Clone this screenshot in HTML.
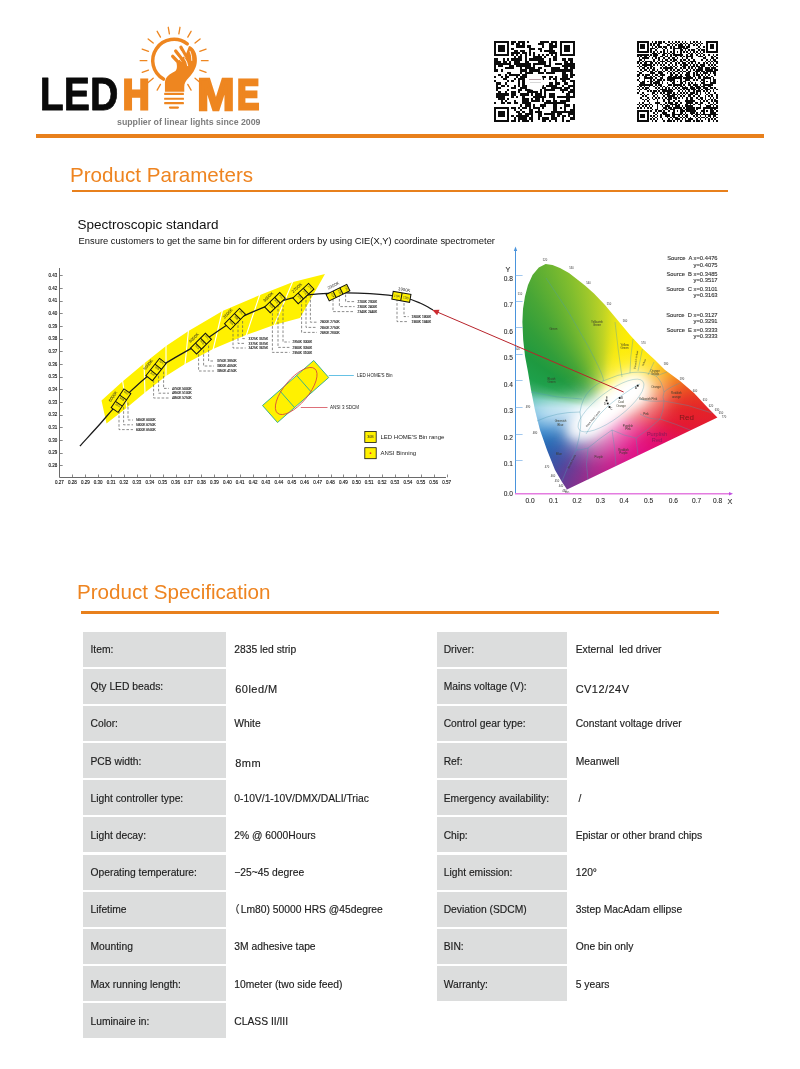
<!DOCTYPE html>
<html lang="en">
<head>
<meta charset="utf-8">
<title>LED HOME - Product Parameters</title>
<style>
html,body{margin:0;padding:0;background:#fff;}
body{width:800px;height:1069px;position:relative;overflow:hidden;font-family:"Liberation Sans","Noto Sans CJK SC",sans-serif;color:#222;}
.abs{position:absolute;}
.hline{position:absolute;background:#e8801c;}
.h1{position:absolute;color:#ee8420;font-size:20.6px;line-height:24px;white-space:nowrap;}
.cell{position:absolute;background:#dcdddd;height:35px;}
.lbl,.val{position:absolute;font-size:10.3px;line-height:12px;white-space:nowrap;color:#1c1c1c;-webkit-text-stroke:0.15px #1c1c1c;}
.val{color:#222;}
#spec1{position:absolute;left:77.5px;top:217px;font-size:13.5px;line-height:16px;color:#111;white-space:nowrap;}
#spec2{position:absolute;left:78.6px;top:235px;font-size:9.36px;line-height:12px;color:#111;white-space:nowrap;}
</style>
</head>
<body>
<!-- HEADER -->
<div id="logo" class="abs" style="left:0;top:0;width:300px;height:140px;"><svg width="300" height="140" viewBox="0 0 300 140" style="position:absolute;left:0;top:0;overflow:visible">
<text x="39.7" y="110" font-family="Liberation Sans, Arial, sans-serif" font-weight="700" font-size="45.6" fill="#0a0a0a" stroke="#0a0a0a" stroke-width="0.8" stroke-linejoin="round" textLength="78.6" lengthAdjust="spacingAndGlyphs">LED</text>
<text x="122.94" y="109.40" font-family="Liberation Sans, Arial, sans-serif" font-weight="700" font-size="43.30" fill="#ee8620" stroke="#ee8620" stroke-width="3.2" stroke-linejoin="miter" textLength="26.32" lengthAdjust="spacingAndGlyphs">H</text>
<text x="197.17" y="109.70" font-family="Liberation Sans, Arial, sans-serif" font-weight="700" font-size="44.13" fill="#ee8620" stroke="#ee8620" stroke-width="2.6" stroke-linejoin="miter" textLength="37.26" lengthAdjust="spacingAndGlyphs">M</text>
<text x="237.21" y="109.40" font-family="Liberation Sans, Arial, sans-serif" font-weight="700" font-size="43.30" fill="#ee8620" stroke="#ee8620" stroke-width="3.2" stroke-linejoin="miter" textLength="21.87" lengthAdjust="spacingAndGlyphs">E</text>
<text x="117" y="125.2" font-family="Liberation Sans, Arial, sans-serif" font-weight="700" font-size="9.1" fill="#7d7d7d" textLength="143.5" lengthAdjust="spacingAndGlyphs">supplier of linear lights since 2009</text>
<g transform="translate(140,25) scale(0.0875)" fill="#ee8620" stroke="none">
<line x1="234" y1="678" x2="196" y2="744" stroke="#ee8620" stroke-width="15" stroke-linecap="round"/>
<line x1="151" y1="609" x2="93" y2="657" stroke="#ee8620" stroke-width="15" stroke-linecap="round"/>
<line x1="97" y1="515" x2="25" y2="541" stroke="#ee8620" stroke-width="15" stroke-linecap="round"/>
<line x1="78" y1="408" x2="2" y2="408" stroke="#ee8620" stroke-width="15" stroke-linecap="round"/>
<line x1="97" y1="301" x2="25" y2="275" stroke="#ee8620" stroke-width="15" stroke-linecap="round"/>
<line x1="151" y1="207" x2="93" y2="159" stroke="#ee8620" stroke-width="15" stroke-linecap="round"/>
<line x1="234" y1="138" x2="196" y2="72" stroke="#ee8620" stroke-width="15" stroke-linecap="round"/>
<line x1="336" y1="101" x2="323" y2="26" stroke="#ee8620" stroke-width="15" stroke-linecap="round"/>
<line x1="444" y1="101" x2="457" y2="26" stroke="#ee8620" stroke-width="15" stroke-linecap="round"/>
<line x1="546" y1="138" x2="584" y2="72" stroke="#ee8620" stroke-width="15" stroke-linecap="round"/>
<line x1="629" y1="207" x2="687" y2="159" stroke="#ee8620" stroke-width="15" stroke-linecap="round"/>
<line x1="683" y1="301" x2="755" y2="275" stroke="#ee8620" stroke-width="15" stroke-linecap="round"/>
<line x1="702" y1="408" x2="778" y2="408" stroke="#ee8620" stroke-width="15" stroke-linecap="round"/>
<line x1="683" y1="515" x2="755" y2="541" stroke="#ee8620" stroke-width="15" stroke-linecap="round"/>
<line x1="629" y1="609" x2="687" y2="657" stroke="#ee8620" stroke-width="15" stroke-linecap="round"/>
<line x1="546" y1="678" x2="584" y2="744" stroke="#ee8620" stroke-width="15" stroke-linecap="round"/>
<path d="M268,618 A243,243 0 1 1 540,217" fill="none" stroke="#ee8620" stroke-width="40" stroke-linecap="round"/>
<path d="M285,762 L285,655 C292,590 340,562 395,532 C428,512 424,470 418,436 L452,398 L520,345 L560,240 C615,250 655,330 650,410 C648,480 612,540 562,598 C522,640 506,668 506,705 L506,762 Z"/>
<line x1="455" y1="445" x2="374" y2="358" stroke="#ee8620" stroke-width="38" stroke-linecap="round"/>
<line x1="492" y1="405" x2="408" y2="298" stroke="#ee8620" stroke-width="38" stroke-linecap="round"/>
<line x1="535" y1="375" x2="468" y2="255" stroke="#ee8620" stroke-width="38" stroke-linecap="round"/>
<path d="M512,385 Q540,420 545,465" fill="none" stroke="#fff" stroke-width="11" stroke-linecap="round"/>
<path d="M572,300 Q596,350 592,405" fill="none" stroke="#fff" stroke-width="10" stroke-linecap="round"/>
<path d="M470,300 L515,375" fill="none" stroke="#fff" stroke-width="7" stroke-linecap="round"/>
<path d="M415,345 L470,415" fill="none" stroke="#fff" stroke-width="7" stroke-linecap="round"/>
<rect x="276" y="775" width="226" height="25" rx="5"/>
<rect x="276" y="830" width="226" height="25" rx="5"/>
<rect x="276" y="880" width="226" height="25" rx="5"/>
<rect x="330" y="930" width="116" height="26" rx="13"/>
</g></svg></div>
<div id="qr1" class="abs" style="left:494.3px;top:41.4px;width:80.8px;height:80.8px;"><svg width="80.8" height="80.8" viewBox="0 0 37 37" preserveAspectRatio="none" shape-rendering="crispEdges" style="position:absolute;left:0;top:0"><path fill="#0c0c0c" d="M0 0h7v1h-7zM8 0h2v1h-2zM11 0h3v1h-3zM15 0h1v1h-1zM21 0h4v1h-4zM26 0h3v1h-3zM30 0h7v1h-7zM0 1h1v1h-1zM6 1h1v1h-1zM8 1h1v1h-1zM10 1h2v1h-2zM13 1h1v1h-1zM20 1h3v1h-3zM25 1h2v1h-2zM28 1h1v1h-1zM30 1h1v1h-1zM36 1h1v1h-1zM0 2h1v1h-1zM2 2h3v1h-3zM6 2h1v1h-1zM10 2h4v1h-4zM15 2h2v1h-2zM22 2h1v1h-1zM25 2h4v1h-4zM30 2h1v1h-1zM32 2h3v1h-3zM36 2h1v1h-1zM0 3h1v1h-1zM2 3h3v1h-3zM6 3h1v1h-1zM8 3h1v1h-1zM16 3h3v1h-3zM20 3h2v1h-2zM25 3h2v1h-2zM30 3h1v1h-1zM32 3h3v1h-3zM36 3h1v1h-1zM0 4h1v1h-1zM2 4h3v1h-3zM6 4h1v1h-1zM9 4h2v1h-2zM12 4h2v1h-2zM16 4h1v1h-1zM21 4h1v1h-1zM23 4h5v1h-5zM30 4h1v1h-1zM32 4h3v1h-3zM36 4h1v1h-1zM0 5h1v1h-1zM6 5h1v1h-1zM8 5h4v1h-4zM13 5h2v1h-2zM16 5h1v1h-1zM18 5h1v1h-1zM25 5h4v1h-4zM30 5h1v1h-1zM36 5h1v1h-1zM0 6h7v1h-7zM8 6h1v1h-1zM10 6h1v1h-1zM12 6h1v1h-1zM14 6h1v1h-1zM16 6h1v1h-1zM18 6h1v1h-1zM20 6h1v1h-1zM22 6h1v1h-1zM24 6h1v1h-1zM26 6h1v1h-1zM28 6h1v1h-1zM30 6h7v1h-7zM9 7h1v1h-1zM11 7h2v1h-2zM14 7h1v1h-1zM18 7h4v1h-4zM23 7h1v1h-1zM27 7h2v1h-2zM0 8h2v1h-2zM4 8h1v1h-1zM6 8h1v1h-1zM8 8h5v1h-5zM14 8h1v1h-1zM16 8h7v1h-7zM25 8h1v1h-1zM27 8h2v1h-2zM31 8h2v1h-2zM34 8h2v1h-2zM0 9h3v1h-3zM4 9h2v1h-2zM7 9h1v1h-1zM9 9h3v1h-3zM14 9h2v1h-2zM20 9h4v1h-4zM25 9h1v1h-1zM32 9h2v1h-2zM35 9h1v1h-1zM0 10h8v1h-8zM9 10h8v1h-8zM18 10h6v1h-6zM25 10h1v1h-1zM28 10h3v1h-3zM32 10h5v1h-5zM0 11h1v1h-1zM2 11h2v1h-2zM7 11h2v1h-2zM10 11h7v1h-7zM18 11h1v1h-1zM23 11h3v1h-3zM31 11h6v1h-6zM0 12h1v1h-1zM5 12h4v1h-4zM12 12h1v1h-1zM14 12h5v1h-5zM20 12h2v1h-2zM26 12h4v1h-4zM32 12h2v1h-2zM35 12h2v1h-2zM0 13h2v1h-2zM3 13h1v1h-1zM12 13h3v1h-3zM16 13h5v1h-5zM23 13h1v1h-1zM26 13h10v1h-10zM6 14h2v1h-2zM12 14h1v1h-1zM14 14h4v1h-4zM20 14h3v1h-3zM24 14h4v1h-4zM31 14h2v1h-2zM35 14h1v1h-1zM2 15h1v1h-1zM5 15h1v1h-1zM7 15h5v1h-5zM13 15h2v1h-2zM31 15h3v1h-3zM35 15h2v1h-2zM0 16h1v1h-1zM3 16h1v1h-1zM5 16h2v1h-2zM10 16h1v1h-1zM12 16h3v1h-3zM22 16h2v1h-2zM25 16h2v1h-2zM28 16h1v1h-1zM31 16h3v1h-3zM35 16h1v1h-1zM4 17h2v1h-2zM9 17h1v1h-1zM11 17h3v1h-3zM22 17h1v1h-1zM25 17h1v1h-1zM27 17h2v1h-2zM30 17h5v1h-5zM0 18h1v1h-1zM6 18h1v1h-1zM8 18h1v1h-1zM11 18h1v1h-1zM13 18h1v1h-1zM28 18h1v1h-1zM31 18h2v1h-2zM35 18h2v1h-2zM1 19h2v1h-2zM5 19h1v1h-1zM11 19h1v1h-1zM13 19h1v1h-1zM25 19h2v1h-2zM28 19h2v1h-2zM32 19h2v1h-2zM36 19h1v1h-1zM1 20h1v1h-1zM3 20h2v1h-2zM6 20h1v1h-1zM9 20h1v1h-1zM11 20h1v1h-1zM13 20h2v1h-2zM22 20h1v1h-1zM24 20h5v1h-5zM31 20h1v1h-1zM34 20h3v1h-3zM1 21h2v1h-2zM8 21h2v1h-2zM12 21h3v1h-3zM22 21h2v1h-2zM26 21h5v1h-5zM32 21h3v1h-3zM36 21h1v1h-1zM1 22h1v1h-1zM6 22h1v1h-1zM11 22h2v1h-2zM14 22h4v1h-4zM21 22h1v1h-1zM23 22h5v1h-5zM30 22h4v1h-4zM35 22h2v1h-2zM2 23h1v1h-1zM5 23h1v1h-1zM8 23h2v1h-2zM11 23h1v1h-1zM15 23h5v1h-5zM21 23h1v1h-1zM23 23h1v1h-1zM31 23h1v1h-1zM34 23h3v1h-3zM1 24h6v1h-6zM8 24h2v1h-2zM12 24h4v1h-4zM17 24h1v1h-1zM19 24h3v1h-3zM23 24h1v1h-1zM25 24h3v1h-3zM33 24h2v1h-2zM36 24h1v1h-1zM1 25h4v1h-4zM8 25h1v1h-1zM10 25h1v1h-1zM13 25h1v1h-1zM18 25h6v1h-6zM25 25h3v1h-3zM29 25h8v1h-8zM2 26h3v1h-3zM6 26h1v1h-1zM13 26h3v1h-3zM17 26h1v1h-1zM19 26h2v1h-2zM22 26h1v1h-1zM27 26h1v1h-1zM33 26h2v1h-2zM3 27h1v1h-1zM5 27h1v1h-1zM9 27h1v1h-1zM13 27h3v1h-3zM17 27h4v1h-4zM22 27h1v1h-1zM24 27h2v1h-2zM27 27h2v1h-2zM30 27h5v1h-5zM0 28h1v1h-1zM3 28h2v1h-2zM6 28h2v1h-2zM9 28h2v1h-2zM13 28h4v1h-4zM23 28h10v1h-10zM12 29h1v1h-1zM14 29h3v1h-3zM18 29h1v1h-1zM21 29h3v1h-3zM27 29h2v1h-2zM32 29h3v1h-3zM36 29h1v1h-1zM0 30h7v1h-7zM8 30h2v1h-2zM11 30h1v1h-1zM13 30h2v1h-2zM16 30h1v1h-1zM18 30h3v1h-3zM22 30h1v1h-1zM27 30h2v1h-2zM30 30h1v1h-1zM32 30h1v1h-1zM36 30h1v1h-1zM0 31h1v1h-1zM6 31h1v1h-1zM9 31h1v1h-1zM12 31h1v1h-1zM16 31h2v1h-2zM20 31h1v1h-1zM27 31h2v1h-2zM32 31h1v1h-1zM35 31h2v1h-2zM0 32h1v1h-1zM2 32h3v1h-3zM6 32h1v1h-1zM10 32h2v1h-2zM13 32h1v1h-1zM16 32h2v1h-2zM19 32h3v1h-3zM26 32h11v1h-11zM0 33h1v1h-1zM2 33h3v1h-3zM6 33h1v1h-1zM11 33h2v1h-2zM14 33h4v1h-4zM20 33h2v1h-2zM23 33h5v1h-5zM29 33h2v1h-2zM34 33h3v1h-3zM0 34h1v1h-1zM2 34h3v1h-3zM6 34h1v1h-1zM8 34h1v1h-1zM10 34h6v1h-6zM17 34h1v1h-1zM20 34h2v1h-2zM26 34h2v1h-2zM29 34h1v1h-1zM31 34h2v1h-2zM34 34h1v1h-1zM36 34h1v1h-1zM0 35h1v1h-1zM6 35h1v1h-1zM9 35h1v1h-1zM11 35h4v1h-4zM16 35h2v1h-2zM20 35h1v1h-1zM22 35h3v1h-3zM26 35h3v1h-3zM31 35h1v1h-1zM35 35h2v1h-2zM0 36h7v1h-7zM8 36h2v1h-2zM11 36h1v1h-1zM13 36h3v1h-3zM17 36h1v1h-1zM22 36h2v1h-2zM25 36h1v1h-1zM28 36h1v1h-1zM31 36h1v1h-1zM33 36h2v1h-2z"/></svg><div style="position:absolute;left:32.5px;top:32.5px;width:16px;height:16px;border-radius:6px;background:#fff"></div><div style="position:absolute;left:35px;top:37.5px;width:12px;height:1.2px;background:#b9a0a8"></div><div style="position:absolute;left:35.5px;top:40.5px;width:11px;height:0.8px;background:#d8d8d8"></div></div>
<div id="qr2" class="abs" style="left:637.3px;top:41.4px;width:80.8px;height:80.8px;"><svg width="80.8" height="80.8" viewBox="0 0 49 49" preserveAspectRatio="none" shape-rendering="crispEdges" style="position:absolute;left:0;top:0"><path fill="#0c0c0c" d="M0 0h7v1h-7zM9 0h1v1h-1zM11 0h1v1h-1zM13 0h2v1h-2zM16 0h1v1h-1zM19 0h1v1h-1zM21 0h1v1h-1zM23 0h1v1h-1zM25 0h1v1h-1zM27 0h1v1h-1zM29 0h1v1h-1zM32 0h1v1h-1zM34 0h1v1h-1zM36 0h1v1h-1zM38 0h1v1h-1zM42 0h7v1h-7zM0 1h1v1h-1zM6 1h1v1h-1zM8 1h1v1h-1zM10 1h2v1h-2zM13 1h2v1h-2zM17 1h1v1h-1zM20 1h1v1h-1zM22 1h1v1h-1zM24 1h1v1h-1zM26 1h1v1h-1zM28 1h1v1h-1zM30 1h1v1h-1zM32 1h2v1h-2zM35 1h1v1h-1zM37 1h1v1h-1zM39 1h1v1h-1zM42 1h1v1h-1zM48 1h1v1h-1zM0 2h1v1h-1zM2 2h3v1h-3zM6 2h1v1h-1zM8 2h1v1h-1zM10 2h1v1h-1zM12 2h2v1h-2zM18 2h2v1h-2zM21 2h1v1h-1zM23 2h1v1h-1zM25 2h3v1h-3zM29 2h1v1h-1zM31 2h1v1h-1zM34 2h1v1h-1zM36 2h1v1h-1zM38 2h1v1h-1zM42 2h1v1h-1zM44 2h3v1h-3zM48 2h1v1h-1zM0 3h1v1h-1zM2 3h3v1h-3zM6 3h1v1h-1zM9 3h1v1h-1zM11 3h1v1h-1zM13 3h2v1h-2zM16 3h2v1h-2zM20 3h1v1h-1zM22 3h1v1h-1zM25 3h4v1h-4zM30 3h2v1h-2zM37 3h1v1h-1zM40 3h1v1h-1zM42 3h1v1h-1zM44 3h3v1h-3zM48 3h1v1h-1zM0 4h1v1h-1zM2 4h3v1h-3zM6 4h1v1h-1zM8 4h3v1h-3zM12 4h1v1h-1zM15 4h1v1h-1zM17 4h1v1h-1zM20 4h1v1h-1zM22 4h5v1h-5zM28 4h3v1h-3zM36 4h1v1h-1zM38 4h1v1h-1zM42 4h1v1h-1zM44 4h3v1h-3zM48 4h1v1h-1zM0 5h1v1h-1zM6 5h1v1h-1zM8 5h1v1h-1zM11 5h1v1h-1zM16 5h1v1h-1zM18 5h1v1h-1zM22 5h1v1h-1zM26 5h2v1h-2zM29 5h1v1h-1zM31 5h1v1h-1zM33 5h2v1h-2zM37 5h1v1h-1zM39 5h2v1h-2zM42 5h1v1h-1zM48 5h1v1h-1zM0 6h7v1h-7zM8 6h1v1h-1zM10 6h1v1h-1zM12 6h1v1h-1zM14 6h1v1h-1zM16 6h1v1h-1zM18 6h1v1h-1zM20 6h1v1h-1zM22 6h1v1h-1zM24 6h1v1h-1zM26 6h1v1h-1zM28 6h1v1h-1zM30 6h1v1h-1zM32 6h1v1h-1zM34 6h1v1h-1zM36 6h1v1h-1zM38 6h1v1h-1zM40 6h1v1h-1zM42 6h7v1h-7zM9 7h3v1h-3zM13 7h1v1h-1zM16 7h2v1h-2zM19 7h1v1h-1zM21 7h2v1h-2zM26 7h1v1h-1zM31 7h1v1h-1zM33 7h1v1h-1zM35 7h1v1h-1zM37 7h1v1h-1zM39 7h1v1h-1zM0 8h7v1h-7zM8 8h1v1h-1zM10 8h3v1h-3zM15 8h2v1h-2zM18 8h1v1h-1zM20 8h1v1h-1zM22 8h6v1h-6zM30 8h1v1h-1zM32 8h2v1h-2zM36 8h1v1h-1zM38 8h1v1h-1zM40 8h1v1h-1zM43 8h1v1h-1zM46 8h1v1h-1zM48 8h1v1h-1zM0 9h1v1h-1zM2 9h1v1h-1zM4 9h2v1h-2zM7 9h1v1h-1zM10 9h2v1h-2zM14 9h2v1h-2zM17 9h2v1h-2zM20 9h1v1h-1zM23 9h1v1h-1zM26 9h1v1h-1zM28 9h1v1h-1zM30 9h4v1h-4zM37 9h3v1h-3zM41 9h1v1h-1zM45 9h1v1h-1zM47 9h1v1h-1zM1 10h1v1h-1zM3 10h4v1h-4zM9 10h1v1h-1zM11 10h1v1h-1zM13 10h1v1h-1zM16 10h1v1h-1zM19 10h1v1h-1zM21 10h2v1h-2zM24 10h1v1h-1zM27 10h1v1h-1zM30 10h1v1h-1zM33 10h1v1h-1zM40 10h2v1h-2zM45 10h2v1h-2zM48 10h1v1h-1zM1 11h2v1h-2zM4 11h1v1h-1zM10 11h1v1h-1zM13 11h1v1h-1zM15 11h1v1h-1zM17 11h2v1h-2zM20 11h1v1h-1zM22 11h2v1h-2zM26 11h1v1h-1zM28 11h2v1h-2zM31 11h1v1h-1zM34 11h1v1h-1zM39 11h1v1h-1zM42 11h1v1h-1zM44 11h1v1h-1zM46 11h2v1h-2zM0 12h2v1h-2zM3 12h1v1h-1zM5 12h4v1h-4zM10 12h1v1h-1zM12 12h1v1h-1zM14 12h3v1h-3zM18 12h2v1h-2zM21 12h2v1h-2zM24 12h1v1h-1zM26 12h2v1h-2zM30 12h1v1h-1zM32 12h4v1h-4zM41 12h1v1h-1zM43 12h1v1h-1zM45 12h1v1h-1zM47 12h2v1h-2zM0 13h1v1h-1zM2 13h1v1h-1zM4 13h2v1h-2zM8 13h2v1h-2zM11 13h1v1h-1zM13 13h1v1h-1zM15 13h1v1h-1zM17 13h1v1h-1zM20 13h1v1h-1zM23 13h1v1h-1zM25 13h1v1h-1zM27 13h3v1h-3zM31 13h1v1h-1zM33 13h1v1h-1zM35 13h1v1h-1zM37 13h1v1h-1zM40 13h1v1h-1zM42 13h1v1h-1zM44 13h1v1h-1zM46 13h1v1h-1zM48 13h1v1h-1zM1 14h1v1h-1zM3 14h6v1h-6zM10 14h1v1h-1zM12 14h1v1h-1zM14 14h1v1h-1zM16 14h1v1h-1zM19 14h1v1h-1zM21 14h1v1h-1zM23 14h1v1h-1zM26 14h1v1h-1zM28 14h3v1h-3zM32 14h1v1h-1zM34 14h1v1h-1zM36 14h1v1h-1zM38 14h3v1h-3zM43 14h1v1h-1zM45 14h1v1h-1zM47 14h1v1h-1zM0 15h1v1h-1zM2 15h1v1h-1zM4 15h2v1h-2zM8 15h2v1h-2zM15 15h1v1h-1zM17 15h1v1h-1zM20 15h1v1h-1zM22 15h1v1h-1zM24 15h1v1h-1zM27 15h3v1h-3zM31 15h1v1h-1zM33 15h2v1h-2zM36 15h2v1h-2zM39 15h2v1h-2zM44 15h1v1h-1zM46 15h1v1h-1zM48 15h1v1h-1zM1 16h1v1h-1zM3 16h2v1h-2zM6 16h1v1h-1zM8 16h1v1h-1zM10 16h1v1h-1zM14 16h1v1h-1zM16 16h6v1h-6zM23 16h1v1h-1zM26 16h1v1h-1zM28 16h2v1h-2zM31 16h1v1h-1zM33 16h1v1h-1zM35 16h1v1h-1zM37 16h3v1h-3zM41 16h3v1h-3zM45 16h3v1h-3zM2 17h1v1h-1zM4 17h2v1h-2zM7 17h1v1h-1zM9 17h2v1h-2zM12 17h1v1h-1zM15 17h1v1h-1zM17 17h2v1h-2zM20 17h1v1h-1zM22 17h1v1h-1zM24 17h2v1h-2zM27 17h1v1h-1zM30 17h1v1h-1zM32 17h1v1h-1zM34 17h1v1h-1zM36 17h4v1h-4zM41 17h5v1h-5zM47 17h2v1h-2zM0 18h1v1h-1zM3 18h1v1h-1zM6 18h1v1h-1zM8 18h2v1h-2zM11 18h1v1h-1zM13 18h2v1h-2zM16 18h1v1h-1zM19 18h1v1h-1zM21 18h1v1h-1zM23 18h2v1h-2zM26 18h1v1h-1zM28 18h2v1h-2zM31 18h2v1h-2zM35 18h3v1h-3zM39 18h2v1h-2zM42 18h6v1h-6zM1 19h2v1h-2zM8 19h3v1h-3zM13 19h3v1h-3zM18 19h1v1h-1zM20 19h1v1h-1zM22 19h1v1h-1zM25 19h1v1h-1zM27 19h1v1h-1zM30 19h2v1h-2zM34 19h1v1h-1zM36 19h1v1h-1zM38 19h1v1h-1zM40 19h3v1h-3zM44 19h1v1h-1zM46 19h2v1h-2zM0 20h2v1h-2zM3 20h1v1h-1zM5 20h3v1h-3zM9 20h1v1h-1zM11 20h2v1h-2zM14 20h3v1h-3zM20 20h2v1h-2zM23 20h2v1h-2zM26 20h1v1h-1zM29 20h3v1h-3zM34 20h1v1h-1zM36 20h2v1h-2zM39 20h1v1h-1zM41 20h1v1h-1zM43 20h1v1h-1zM47 20h1v1h-1zM0 21h1v1h-1zM4 21h2v1h-2zM8 21h1v1h-1zM10 21h1v1h-1zM13 21h1v1h-1zM15 21h1v1h-1zM19 21h2v1h-2zM22 21h2v1h-2zM25 21h3v1h-3zM30 21h3v1h-3zM34 21h1v1h-1zM37 21h2v1h-2zM40 21h1v1h-1zM42 21h1v1h-1zM45 21h1v1h-1zM1 22h1v1h-1zM4 22h6v1h-6zM11 22h1v1h-1zM14 22h2v1h-2zM18 22h9v1h-9zM28 22h6v1h-6zM35 22h1v1h-1zM37 22h2v1h-2zM40 22h5v1h-5zM46 22h1v1h-1zM0 23h1v1h-1zM4 23h1v1h-1zM8 23h1v1h-1zM10 23h1v1h-1zM12 23h3v1h-3zM16 23h1v1h-1zM18 23h5v1h-5zM26 23h1v1h-1zM29 23h3v1h-3zM34 23h1v1h-1zM36 23h1v1h-1zM39 23h2v1h-2zM44 23h1v1h-1zM46 23h2v1h-2zM1 24h1v1h-1zM3 24h2v1h-2zM6 24h1v1h-1zM8 24h2v1h-2zM11 24h3v1h-3zM15 24h1v1h-1zM20 24h1v1h-1zM22 24h1v1h-1zM24 24h1v1h-1zM26 24h1v1h-1zM28 24h2v1h-2zM32 24h1v1h-1zM38 24h1v1h-1zM40 24h1v1h-1zM42 24h1v1h-1zM44 24h1v1h-1zM46 24h2v1h-2zM2 25h3v1h-3zM8 25h1v1h-1zM10 25h4v1h-4zM15 25h1v1h-1zM18 25h1v1h-1zM21 25h2v1h-2zM26 25h2v1h-2zM29 25h1v1h-1zM31 25h1v1h-1zM33 25h1v1h-1zM35 25h1v1h-1zM39 25h2v1h-2zM44 25h4v1h-4zM1 26h9v1h-9zM11 26h1v1h-1zM13 26h2v1h-2zM19 26h2v1h-2zM22 26h5v1h-5zM28 26h1v1h-1zM31 26h2v1h-2zM34 26h3v1h-3zM38 26h1v1h-1zM40 26h6v1h-6zM0 27h1v1h-1zM2 27h1v1h-1zM4 27h1v1h-1zM7 27h1v1h-1zM10 27h1v1h-1zM12 27h1v1h-1zM14 27h1v1h-1zM16 27h1v1h-1zM18 27h1v1h-1zM22 27h1v1h-1zM24 27h1v1h-1zM26 27h2v1h-2zM29 27h1v1h-1zM32 27h2v1h-2zM35 27h3v1h-3zM39 27h2v1h-2zM43 27h2v1h-2zM1 28h1v1h-1zM3 28h1v1h-1zM5 28h2v1h-2zM11 28h1v1h-1zM13 28h1v1h-1zM15 28h1v1h-1zM17 28h1v1h-1zM19 28h1v1h-1zM21 28h1v1h-1zM23 28h1v1h-1zM25 28h1v1h-1zM27 28h4v1h-4zM32 28h3v1h-3zM36 28h3v1h-3zM40 28h3v1h-3zM44 28h2v1h-2zM47 28h1v1h-1zM0 29h1v1h-1zM2 29h1v1h-1zM4 29h2v1h-2zM7 29h1v1h-1zM12 29h1v1h-1zM14 29h4v1h-4zM19 29h2v1h-2zM22 29h1v1h-1zM24 29h1v1h-1zM26 29h1v1h-1zM28 29h1v1h-1zM30 29h2v1h-2zM33 29h3v1h-3zM37 29h1v1h-1zM39 29h1v1h-1zM41 29h3v1h-3zM46 29h1v1h-1zM48 29h1v1h-1zM1 30h1v1h-1zM6 30h1v1h-1zM8 30h1v1h-1zM10 30h2v1h-2zM13 30h1v1h-1zM15 30h7v1h-7zM25 30h1v1h-1zM27 30h1v1h-1zM29 30h1v1h-1zM31 30h1v1h-1zM34 30h1v1h-1zM36 30h3v1h-3zM40 30h1v1h-1zM42 30h1v1h-1zM44 30h1v1h-1zM46 30h1v1h-1zM0 31h1v1h-1zM3 31h1v1h-1zM9 31h2v1h-2zM12 31h1v1h-1zM14 31h1v1h-1zM16 31h1v1h-1zM18 31h3v1h-3zM22 31h1v1h-1zM24 31h1v1h-1zM26 31h1v1h-1zM28 31h1v1h-1zM30 31h1v1h-1zM32 31h3v1h-3zM36 31h1v1h-1zM38 31h1v1h-1zM41 31h1v1h-1zM43 31h1v1h-1zM47 31h1v1h-1zM2 32h1v1h-1zM4 32h1v1h-1zM6 32h1v1h-1zM9 32h1v1h-1zM11 32h1v1h-1zM15 32h1v1h-1zM17 32h3v1h-3zM21 32h3v1h-3zM25 32h1v1h-1zM27 32h1v1h-1zM29 32h1v1h-1zM31 32h3v1h-3zM35 32h2v1h-2zM38 32h1v1h-1zM42 32h1v1h-1zM44 32h2v1h-2zM48 32h1v1h-1zM3 33h1v1h-1zM5 33h1v1h-1zM10 33h1v1h-1zM12 33h1v1h-1zM16 33h1v1h-1zM18 33h5v1h-5zM24 33h1v1h-1zM26 33h1v1h-1zM28 33h1v1h-1zM31 33h2v1h-2zM34 33h1v1h-1zM37 33h1v1h-1zM41 33h1v1h-1zM43 33h1v1h-1zM45 33h1v1h-1zM48 33h1v1h-1zM2 34h1v1h-1zM6 34h1v1h-1zM9 34h1v1h-1zM11 34h1v1h-1zM13 34h1v1h-1zM15 34h1v1h-1zM17 34h1v1h-1zM19 34h2v1h-2zM22 34h2v1h-2zM25 34h1v1h-1zM27 34h1v1h-1zM30 34h1v1h-1zM32 34h2v1h-2zM36 34h1v1h-1zM38 34h2v1h-2zM41 34h1v1h-1zM44 34h1v1h-1zM46 34h1v1h-1zM48 34h1v1h-1zM3 35h1v1h-1zM5 35h1v1h-1zM7 35h1v1h-1zM10 35h1v1h-1zM12 35h1v1h-1zM16 35h1v1h-1zM18 35h3v1h-3zM23 35h1v1h-1zM30 35h1v1h-1zM32 35h2v1h-2zM37 35h1v1h-1zM39 35h1v1h-1zM41 35h1v1h-1zM43 35h1v1h-1zM45 35h1v1h-1zM47 35h1v1h-1zM4 36h1v1h-1zM6 36h1v1h-1zM12 36h1v1h-1zM16 36h1v1h-1zM19 36h1v1h-1zM22 36h1v1h-1zM25 36h1v1h-1zM29 36h6v1h-6zM38 36h1v1h-1zM40 36h1v1h-1zM42 36h1v1h-1zM45 36h1v1h-1zM47 36h2v1h-2zM1 37h1v1h-1zM3 37h1v1h-1zM7 37h1v1h-1zM11 37h3v1h-3zM17 37h1v1h-1zM19 37h3v1h-3zM23 37h2v1h-2zM26 37h1v1h-1zM30 37h4v1h-4zM35 37h2v1h-2zM38 37h2v1h-2zM43 37h1v1h-1zM46 37h1v1h-1zM48 37h1v1h-1zM0 38h1v1h-1zM2 38h1v1h-1zM4 38h3v1h-3zM8 38h1v1h-1zM12 38h1v1h-1zM14 38h1v1h-1zM16 38h1v1h-1zM18 38h1v1h-1zM20 38h4v1h-4zM25 38h1v1h-1zM29 38h2v1h-2zM32 38h1v1h-1zM34 38h1v1h-1zM37 38h2v1h-2zM41 38h1v1h-1zM44 38h2v1h-2zM47 38h1v1h-1zM1 39h1v1h-1zM3 39h1v1h-1zM5 39h1v1h-1zM7 39h1v1h-1zM9 39h1v1h-1zM12 39h1v1h-1zM15 39h1v1h-1zM17 39h3v1h-3zM21 39h1v1h-1zM23 39h3v1h-3zM27 39h1v1h-1zM29 39h5v1h-5zM38 39h1v1h-1zM42 39h3v1h-3zM46 39h1v1h-1zM48 39h1v1h-1zM0 40h1v1h-1zM2 40h1v1h-1zM4 40h1v1h-1zM6 40h1v1h-1zM8 40h1v1h-1zM12 40h1v1h-1zM16 40h2v1h-2zM19 40h2v1h-2zM22 40h5v1h-5zM28 40h1v1h-1zM30 40h5v1h-5zM36 40h3v1h-3zM40 40h9v1h-9zM9 41h1v1h-1zM11 41h2v1h-2zM15 41h1v1h-1zM17 41h2v1h-2zM20 41h3v1h-3zM26 41h2v1h-2zM29 41h6v1h-6zM36 41h1v1h-1zM40 41h1v1h-1zM44 41h2v1h-2zM47 41h1v1h-1zM0 42h7v1h-7zM8 42h1v1h-1zM11 42h1v1h-1zM13 42h2v1h-2zM16 42h1v1h-1zM19 42h1v1h-1zM22 42h1v1h-1zM24 42h1v1h-1zM26 42h3v1h-3zM30 42h6v1h-6zM39 42h2v1h-2zM42 42h1v1h-1zM44 42h3v1h-3zM48 42h1v1h-1zM0 43h1v1h-1zM6 43h1v1h-1zM10 43h1v1h-1zM12 43h1v1h-1zM15 43h3v1h-3zM21 43h2v1h-2zM26 43h2v1h-2zM29 43h1v1h-1zM32 43h3v1h-3zM36 43h1v1h-1zM38 43h1v1h-1zM40 43h1v1h-1zM44 43h4v1h-4zM0 44h1v1h-1zM2 44h3v1h-3zM6 44h1v1h-1zM11 44h1v1h-1zM14 44h1v1h-1zM16 44h4v1h-4zM21 44h6v1h-6zM28 44h1v1h-1zM30 44h1v1h-1zM33 44h1v1h-1zM35 44h3v1h-3zM39 44h10v1h-10zM0 45h1v1h-1zM2 45h3v1h-3zM6 45h1v1h-1zM8 45h1v1h-1zM10 45h1v1h-1zM12 45h1v1h-1zM14 45h1v1h-1zM17 45h3v1h-3zM21 45h2v1h-2zM25 45h1v1h-1zM27 45h1v1h-1zM29 45h2v1h-2zM34 45h1v1h-1zM36 45h1v1h-1zM38 45h1v1h-1zM41 45h1v1h-1zM43 45h2v1h-2zM46 45h2v1h-2zM0 46h1v1h-1zM2 46h3v1h-3zM6 46h1v1h-1zM9 46h1v1h-1zM11 46h1v1h-1zM14 46h1v1h-1zM18 46h1v1h-1zM20 46h1v1h-1zM22 46h3v1h-3zM26 46h1v1h-1zM28 46h1v1h-1zM30 46h1v1h-1zM32 46h1v1h-1zM35 46h1v1h-1zM37 46h1v1h-1zM39 46h2v1h-2zM42 46h1v1h-1zM44 46h1v1h-1zM46 46h1v1h-1zM48 46h1v1h-1zM0 47h1v1h-1zM6 47h1v1h-1zM8 47h1v1h-1zM10 47h1v1h-1zM12 47h1v1h-1zM15 47h1v1h-1zM19 47h1v1h-1zM21 47h1v1h-1zM23 47h3v1h-3zM27 47h1v1h-1zM29 47h1v1h-1zM31 47h3v1h-3zM36 47h1v1h-1zM38 47h1v1h-1zM41 47h1v1h-1zM43 47h1v1h-1zM45 47h1v1h-1zM47 47h1v1h-1zM0 48h7v1h-7zM9 48h1v1h-1zM11 48h1v1h-1zM16 48h1v1h-1zM18 48h3v1h-3zM22 48h1v1h-1zM24 48h1v1h-1zM26 48h1v1h-1zM29 48h4v1h-4zM34 48h1v1h-1zM36 48h2v1h-2zM39 48h1v1h-1zM43 48h1v1h-1zM46 48h1v1h-1zM48 48h1v1h-1z"/></svg></div>
<div class="hline" style="left:36px;top:133.5px;width:728px;height:4px;"></div>

<div class="h1" style="left:70px;top:163px;">Product Parameters</div>
<div class="hline" style="left:72px;top:190px;width:655.5px;height:2.4px;"></div>

<div id="spec1">Spectroscopic standard</div>
<div id="spec2">Ensure customers to get the same bin for different orders by using CIE(X,Y) coordinate spectrometer</div>

<svg width="500" height="280" viewBox="0 250 500 280" style="position:absolute;left:0;top:250px;overflow:visible">
<path d="M59.5,268 V477.5 H446" fill="none" stroke="#6a6a6a" stroke-width="1"/>
<g font-family="Liberation Sans, Arial, sans-serif" font-size="4.5" fill="#111" stroke="#111" stroke-width="0.12" text-anchor="end">
<text x="57.2" y="277.0">0.43</text>
<text x="57.2" y="289.7">0.42</text>
<text x="57.2" y="302.3">0.41</text>
<text x="57.2" y="315.0">0.40</text>
<text x="57.2" y="327.6">0.39</text>
<text x="57.2" y="340.3">0.38</text>
<text x="57.2" y="353.0">0.37</text>
<text x="57.2" y="365.6">0.36</text>
<text x="57.2" y="378.3">0.35</text>
<text x="57.2" y="390.9">0.34</text>
<text x="57.2" y="403.6">0.33</text>
<text x="57.2" y="416.3">0.32</text>
<text x="57.2" y="428.9">0.31</text>
<text x="57.2" y="441.6">0.30</text>
<text x="57.2" y="454.2">0.29</text>
<text x="57.2" y="466.9">0.28</text>
</g>
<g font-family="Liberation Sans, Arial, sans-serif" font-size="4.5" fill="#111" stroke="#111" stroke-width="0.12" text-anchor="middle">
<text x="59.5" y="483.6">0.27</text>
<text x="72.4" y="483.6">0.28</text>
<text x="85.3" y="483.6">0.29</text>
<text x="98.2" y="483.6">0.30</text>
<text x="111.1" y="483.6">0.31</text>
<text x="124.0" y="483.6">0.32</text>
<text x="136.9" y="483.6">0.33</text>
<text x="149.8" y="483.6">0.34</text>
<text x="162.7" y="483.6">0.35</text>
<text x="175.6" y="483.6">0.36</text>
<text x="188.5" y="483.6">0.37</text>
<text x="201.5" y="483.6">0.38</text>
<text x="214.4" y="483.6">0.39</text>
<text x="227.3" y="483.6">0.40</text>
<text x="240.2" y="483.6">0.41</text>
<text x="253.1" y="483.6">0.42</text>
<text x="266.0" y="483.6">0.43</text>
<text x="278.9" y="483.6">0.44</text>
<text x="291.8" y="483.6">0.45</text>
<text x="304.7" y="483.6">0.46</text>
<text x="317.6" y="483.6">0.47</text>
<text x="330.5" y="483.6">0.48</text>
<text x="343.4" y="483.6">0.49</text>
<text x="356.3" y="483.6">0.50</text>
<text x="369.2" y="483.6">0.51</text>
<text x="382.1" y="483.6">0.52</text>
<text x="395.0" y="483.6">0.53</text>
<text x="407.9" y="483.6">0.54</text>
<text x="420.8" y="483.6">0.55</text>
<text x="433.7" y="483.6">0.56</text>
<text x="446.6" y="483.6">0.57</text>
</g>
<path d="M59.5,275.5h3.2M59.5,288.5h3.2M59.5,301.5h3.2M59.5,313.5h3.2M59.5,326.5h3.2M59.5,339.5h3.2M59.5,351.5h3.2M59.5,364.5h3.2M59.5,377.5h3.2M59.5,389.5h3.2M59.5,402.5h3.2M59.5,415.5h3.2M59.5,427.5h3.2M59.5,440.5h3.2M59.5,453.5h3.2M59.5,465.5h3.2M72.5,477.3v-2.8M85.5,477.3v-2.8M98.5,477.3v-2.8M111.5,477.3v-2.8M124.5,477.3v-2.8M137.5,477.3v-2.8M150.5,477.3v-2.8M163.5,477.3v-2.8M176.5,477.3v-2.8M189.5,477.3v-2.8M201.5,477.3v-2.8M214.5,477.3v-2.8M227.5,477.3v-2.8M240.5,477.3v-2.8M253.5,477.3v-2.8M266.5,477.3v-2.8M279.5,477.3v-2.8M292.5,477.3v-2.8M305.5,477.3v-2.8M318.5,477.3v-2.8M331.5,477.3v-2.8M343.5,477.3v-2.8M356.5,477.3v-2.8M369.5,477.3v-2.8M382.5,477.3v-2.8M395.5,477.3v-2.8M408.5,477.3v-2.8M421.5,477.3v-2.8M434.5,477.3v-2.8M447.5,477.3v-2.8" fill="none" stroke="#6a6a6a" stroke-width="0.8"/>
<polygon points="101.5,400.5 122.5,381.5 144,363.5 166,346 188.5,331 222.5,311 260,295 293,282 325,274 300,318 274,325 246,335 213,349 185,364 166,376 145,392.5 127,407.5 106.5,423.5" fill="#fff100"/>
<line x1="122.5" y1="380.5" x2="127" y2="408.5" stroke="#fff" stroke-width="1.1"/>
<line x1="144" y1="362.5" x2="145" y2="393.5" stroke="#fff" stroke-width="1.1"/>
<line x1="166" y1="345" x2="166" y2="377" stroke="#fff" stroke-width="1.1"/>
<line x1="188.5" y1="330" x2="185" y2="365" stroke="#fff" stroke-width="1.1"/>
<line x1="222.5" y1="310" x2="213" y2="350" stroke="#fff" stroke-width="1.1"/>
<line x1="260" y1="294" x2="246" y2="336" stroke="#fff" stroke-width="1.1"/>
<line x1="293" y1="281" x2="274" y2="326" stroke="#fff" stroke-width="1.1"/>
<path d="M119,402.6V429.6H133M123.6,402.6V424.8H133M128,402.6V420H133M153.6,371.6V398H169M158.6,371.6V393.2H169M163.6,371.6V388.4H169M198.6,345.6V371H214M203.6,345.6V366H214M208.6,345.6V361H214M233,321.0V348H245.6M238,321.0V343.4H245.6M242.6,321.0V338.6H245.6M272.4,304.6V352.4H289.6M278,304.6V347.4H289.6M283,304.6V342H289.6M301.6,295.6V332.4H317M306,295.6V327.4H317M310.4,295.6V322.2H317M333,294.6V311.6H354.6M339.4,294.6V306.6H354.6M345.6,294.6V301.6H354.6M397,298.8V321.6H408.6M404,298.8V316.6H408.6" fill="none" stroke="#5a5a5a" stroke-width="0.7" stroke-dasharray="2.6 1.7"/>
<g font-family="Liberation Sans, Arial, sans-serif" font-size="3.25" fill="#222" stroke="#222" stroke-width="0.12">
<text x="136" y="430.75">6000K 6500K</text>
<text x="136" y="425.95">5900K 6250K</text>
<text x="136" y="421.15">5650K 6000K</text>
<text x="172" y="399.15">4950K 5250K</text>
<text x="172" y="394.35">4850K 5100K</text>
<text x="172" y="389.55">4750K 5000K</text>
<text x="217" y="372.15">3950K 4150K</text>
<text x="217" y="367.15">3900K 4050K</text>
<text x="217" y="362.15">3750K 3950K</text>
<text x="248.6" y="349.15">3425K 3625K</text>
<text x="248.6" y="344.55">3375K 3575K</text>
<text x="248.6" y="339.75">3325K 3525K</text>
<text x="292.6" y="353.55">2950K 3100K</text>
<text x="292.6" y="348.55">2900K 3050K</text>
<text x="292.6" y="343.15">2850K 3000K</text>
<text x="320" y="333.55">2680K 2800K</text>
<text x="320" y="328.55">2650K 2750K</text>
<text x="320" y="323.35">2600K 2750K</text>
<text x="357.6" y="312.75">2340K 2440K</text>
<text x="357.6" y="307.75">2300K 2400K</text>
<text x="357.6" y="302.75">2200K 2300K</text>
<text x="411.6" y="322.75">1900K 1940K</text>
<text x="411.6" y="317.75">1800K 1900K</text>
</g>
<path d="M79.9,446C83.2,442.3 93.2,431.6 100,424C106.8,416.4 111.7,409.7 121,400.6C130.3,391.5 142.7,379.3 156,369.6C169.3,359.9 187.8,350.8 201,342.6C214.2,334.4 222.7,326.9 235,320.3C247.3,313.7 263.6,307.3 275,303.2C286.4,299.1 292.9,297.3 303.4,295.6C313.9,293.9 326.9,293.2 338,292.9C349.1,292.6 359.4,292.9 370,293.6C380.6,294.3 393.1,295.4 401.4,297C409.7,298.6 414.7,300.8 420,303C425.3,305.2 430.8,308.8 433,310" fill="none" stroke="#1a1a1a" stroke-width="1.25"/>
<g transform="translate(121,400.6) rotate(-55.8)">
<rect x="-11.35" y="-4.15" width="22.7" height="8.3" fill="#fff100" stroke="#111" stroke-width="1"/>
<line x1="-3.78" y1="-4.15" x2="-3.78" y2="4.15" stroke="#111" stroke-width="1"/>
<line x1="3.78" y1="-4.15" x2="3.78" y2="4.15" stroke="#111" stroke-width="1"/>
<text font-family="Liberation Sans, Arial, sans-serif" font-size="2.7" fill="#333" text-anchor="middle" transform="translate(-6.67,0) rotate(90)">60A</text>
<text font-family="Liberation Sans, Arial, sans-serif" font-size="2.7" fill="#333" text-anchor="middle" transform="translate(0.90,0) rotate(90)">60B</text>
<text font-family="Liberation Sans, Arial, sans-serif" font-size="2.7" fill="#333" text-anchor="middle" transform="translate(8.47,0) rotate(90)">60C</text>
<text font-family="Liberation Sans, Arial, sans-serif" font-size="4.3" fill="#222" text-anchor="middle" x="-1" y="-7.55">6000K</text>
</g>
<g transform="translate(156,369.6) rotate(-51.7)">
<rect x="-11.00" y="-4.15" width="22" height="8.3" fill="#fff100" stroke="#111" stroke-width="1"/>
<line x1="-3.67" y1="-4.15" x2="-3.67" y2="4.15" stroke="#111" stroke-width="1"/>
<line x1="3.67" y1="-4.15" x2="3.67" y2="4.15" stroke="#111" stroke-width="1"/>
<text font-family="Liberation Sans, Arial, sans-serif" font-size="2.7" fill="#333" text-anchor="middle" transform="translate(-6.43,0) rotate(90)">50A</text>
<text font-family="Liberation Sans, Arial, sans-serif" font-size="2.7" fill="#333" text-anchor="middle" transform="translate(0.90,0) rotate(90)">50B</text>
<text font-family="Liberation Sans, Arial, sans-serif" font-size="2.7" fill="#333" text-anchor="middle" transform="translate(8.23,0) rotate(90)">50C</text>
<text font-family="Liberation Sans, Arial, sans-serif" font-size="4.3" fill="#222" text-anchor="middle" x="-1" y="-7.55">5000K</text>
</g>
<g transform="translate(201,343.6) rotate(-45)">
<rect x="-10.50" y="-4.25" width="21" height="8.5" fill="#fff100" stroke="#111" stroke-width="1"/>
<line x1="-3.50" y1="-4.25" x2="-3.50" y2="4.25" stroke="#111" stroke-width="1"/>
<line x1="3.50" y1="-4.25" x2="3.50" y2="4.25" stroke="#111" stroke-width="1"/>
<text font-family="Liberation Sans, Arial, sans-serif" font-size="2.7" fill="#333" text-anchor="middle" transform="translate(-6.10,0) rotate(90)">40A</text>
<text font-family="Liberation Sans, Arial, sans-serif" font-size="2.7" fill="#333" text-anchor="middle" transform="translate(0.90,0) rotate(90)">40B</text>
<text font-family="Liberation Sans, Arial, sans-serif" font-size="2.7" fill="#333" text-anchor="middle" transform="translate(7.90,0) rotate(90)">40C</text>
<text font-family="Liberation Sans, Arial, sans-serif" font-size="4.3" fill="#222" text-anchor="middle" x="-1" y="-7.65">4000K</text>
</g>
<g transform="translate(235,319) rotate(-45.7)">
<rect x="-10.75" y="-4.15" width="21.5" height="8.3" fill="#fff100" stroke="#111" stroke-width="1"/>
<line x1="-3.58" y1="-4.15" x2="-3.58" y2="4.15" stroke="#111" stroke-width="1"/>
<line x1="3.58" y1="-4.15" x2="3.58" y2="4.15" stroke="#111" stroke-width="1"/>
<text font-family="Liberation Sans, Arial, sans-serif" font-size="2.7" fill="#333" text-anchor="middle" transform="translate(-6.27,0) rotate(90)">35A</text>
<text font-family="Liberation Sans, Arial, sans-serif" font-size="2.7" fill="#333" text-anchor="middle" transform="translate(0.90,0) rotate(90)">35B</text>
<text font-family="Liberation Sans, Arial, sans-serif" font-size="2.7" fill="#333" text-anchor="middle" transform="translate(8.07,0) rotate(90)">35C</text>
<text font-family="Liberation Sans, Arial, sans-serif" font-size="4.3" fill="#222" text-anchor="middle" x="-1" y="-7.55">3500K</text>
</g>
<g transform="translate(275,302.6) rotate(-44)">
<rect x="-10.50" y="-4.00" width="21" height="8" fill="#fff100" stroke="#111" stroke-width="1"/>
<line x1="-3.50" y1="-4.00" x2="-3.50" y2="4.00" stroke="#111" stroke-width="1"/>
<line x1="3.50" y1="-4.00" x2="3.50" y2="4.00" stroke="#111" stroke-width="1"/>
<text font-family="Liberation Sans, Arial, sans-serif" font-size="2.7" fill="#333" text-anchor="middle" transform="translate(-6.10,0) rotate(90)">30A</text>
<text font-family="Liberation Sans, Arial, sans-serif" font-size="2.7" fill="#333" text-anchor="middle" transform="translate(0.90,0) rotate(90)">30B</text>
<text font-family="Liberation Sans, Arial, sans-serif" font-size="2.7" fill="#333" text-anchor="middle" transform="translate(7.90,0) rotate(90)">30C</text>
<text font-family="Liberation Sans, Arial, sans-serif" font-size="4.3" fill="#222" text-anchor="middle" x="-1" y="-7.40">3000K</text>
</g>
<g transform="translate(303.4,293.6) rotate(-43)">
<rect x="-10.75" y="-3.90" width="21.5" height="7.8" fill="#fff100" stroke="#111" stroke-width="1"/>
<line x1="-3.58" y1="-3.90" x2="-3.58" y2="3.90" stroke="#111" stroke-width="1"/>
<line x1="3.58" y1="-3.90" x2="3.58" y2="3.90" stroke="#111" stroke-width="1"/>
<text font-family="Liberation Sans, Arial, sans-serif" font-size="2.7" fill="#333" text-anchor="middle" transform="translate(-6.27,0) rotate(90)">27A</text>
<text font-family="Liberation Sans, Arial, sans-serif" font-size="2.7" fill="#333" text-anchor="middle" transform="translate(0.90,0) rotate(90)">27B</text>
<text font-family="Liberation Sans, Arial, sans-serif" font-size="2.7" fill="#333" text-anchor="middle" transform="translate(8.07,0) rotate(90)">27C</text>
<text font-family="Liberation Sans, Arial, sans-serif" font-size="4.3" fill="#222" text-anchor="middle" x="-1" y="-7.30">2700K</text>
</g>
<g transform="translate(338,292.6) rotate(-26)">
<rect x="-11.50" y="-3.60" width="23" height="7.2" fill="#fff100" stroke="#111" stroke-width="1"/>
<line x1="-3.83" y1="-3.60" x2="-3.83" y2="3.60" stroke="#111" stroke-width="1"/>
<line x1="3.83" y1="-3.60" x2="3.83" y2="3.60" stroke="#111" stroke-width="1"/>
<text font-family="Liberation Sans, Arial, sans-serif" font-size="2.7" fill="#333" text-anchor="middle" transform="translate(-6.77,0) rotate(90)">23A</text>
<text font-family="Liberation Sans, Arial, sans-serif" font-size="2.7" fill="#333" text-anchor="middle" transform="translate(0.90,0) rotate(90)">23B</text>
<text font-family="Liberation Sans, Arial, sans-serif" font-size="2.7" fill="#333" text-anchor="middle" transform="translate(8.57,0) rotate(90)">23C</text>
<text font-family="Liberation Sans, Arial, sans-serif" font-size="4.3" fill="#222" text-anchor="middle" x="-1" y="-7.00">2300K</text>
</g>
<g transform="translate(401.4,296.8) rotate(10)">
<rect x="-9.00" y="-4.00" width="18" height="8" fill="#fff100" stroke="#111" stroke-width="1"/>
<line x1="0.00" y1="-4.00" x2="0.00" y2="4.00" stroke="#111" stroke-width="1"/>
<text font-family="Liberation Sans, Arial, sans-serif" font-size="3.4" fill="#333" text-anchor="middle" x="-4.50" y="1.2">19A</text>
<text font-family="Liberation Sans, Arial, sans-serif" font-size="3.4" fill="#333" text-anchor="middle" x="4.50" y="1.2">19B</text>
<text font-family="Liberation Sans, Arial, sans-serif" font-size="4.3" fill="#222" text-anchor="middle" x="1.5" y="-6.20">1900K</text>
</g>
<g transform="translate(295.6,391.5) rotate(-41.3)">
<rect x="-34.1" y="-11.35" width="68.2" height="22.7" fill="#fff100" stroke="#35b08f" stroke-width="0.9"/>
<path d="M-11.4,-11.35V11.35M11.4,-11.35V11.35" stroke="#35b08f" stroke-width="0.9" fill="none"/>
</g>
<ellipse cx="296.2" cy="391" rx="29" ry="12.2" transform="rotate(-50 296.2 391)" fill="none" stroke="#d8443c" stroke-width="0.8"/>
<line x1="328.8" y1="375.5" x2="353.8" y2="375.5" stroke="#55bbe2" stroke-width="0.9"/>
<line x1="300.8" y1="407.5" x2="327.5" y2="407.5" stroke="#d9606a" stroke-width="0.9"/>
<text font-family="Liberation Sans, Arial, sans-serif" font-size="4.55" fill="#222" x="357" y="376.6">LED HOME'S Bin</text>
<text font-family="Liberation Sans, Arial, sans-serif" font-size="4.55" fill="#222" x="330" y="409.1">ANSI 3 SDCM</text>
<rect x="364.8" y="431.5" width="11.4" height="11" fill="#fff100" stroke="#111" stroke-width="0.8"/>
<rect x="364.8" y="447.7" width="11.4" height="11" fill="#fff100" stroke="#111" stroke-width="0.8"/>
<text font-family="Liberation Sans, Arial, sans-serif" font-size="3.6" fill="#222" text-anchor="middle" x="370.5" y="438.3">30B</text>
<circle cx="370.5" cy="453.2" r="0.9" fill="#e03030"/>
<text font-family="Liberation Sans, Arial, sans-serif" font-size="6" fill="#222" x="380.5" y="439.1">LED HOME'S Bin range</text>
<text font-family="Liberation Sans, Arial, sans-serif" font-size="6" fill="#222" x="380.5" y="455.3">ANSI Binning</text>
</svg>
<div id="cie" style="position:absolute;left:500px;top:255px;width:240px;height:245px;clip-path:polygon(67.0px 234.6px, 62.0px 227.0px, 55.0px 215.0px, 47.0px 195.0px, 40.0px 175.0px, 35.0px 155.0px, 31.0px 135.0px, 28.0px 117.0px, 25.0px 101.0px, 23.2px 85.0px, 22.4px 67.0px, 23.0px 53.8px, 25.0px 41.2px, 28.0px 30.0px, 32.5px 20.0px, 38.8px 12.5px, 45.6px 9.0px, 52.5px 10.0px, 60.0px 13.0px, 69.0px 18.0px, 78.0px 25.0px, 85.0px 30.5px, 94.0px 38.5px, 105.0px 50.0px, 117.5px 65.0px, 130.0px 80.0px, 142.5px 93.5px, 155.0px 105.0px, 165.0px 115.0px, 180.0px 126.0px, 194.0px 138.0px, 208.0px 153.0px, 217.4px 162.6px);background:conic-gradient(from 0deg at 103.0px 155.0px, rgb(190,211,37) 0deg, rgb(224,225,26) 6deg, rgb(244,232,16) 11deg, rgb(253,236,5) 18deg, rgb(255,232,0) 38deg, rgb(254,215,0) 48deg, rgb(250,180,0) 55deg, rgb(246,150,12) 62deg, rgb(242,120,22) 68deg, rgb(236,85,30) 75deg, rgb(231,55,36) 82deg, rgb(229,35,40) 90deg, rgb(228,25,50) 100deg, rgb(227,18,80) 110deg, rgb(226,12,108) 120deg, rgb(226,14,128) 135deg, rgb(220,20,136) 150deg, rgb(208,27,140) 165deg, rgb(185,34,140) 180deg, rgb(165,40,140) 190deg, rgb(130,50,143) 200deg, rgb(105,58,148) 208deg, rgb(72,75,160) 218deg, rgb(48,92,172) 230deg, rgb(40,108,182) 240deg, rgb(50,130,200) 250deg, rgb(75,155,212) 258deg, rgb(110,185,225) 266deg, rgb(128,200,222) 272deg, rgb(105,198,185) 279deg, rgb(55,172,105) 286deg, rgb(30,160,75) 293deg, rgb(30,153,64) 305deg, rgb(50,158,58) 318deg, rgb(72,166,54) 328deg, rgb(100,177,50) 337deg, rgb(128,189,46) 345deg, rgb(156,199,43) 352deg, rgb(190,211,37) 360deg);">
<div style="position:absolute;left:58.0px;top:125.0px;width:114px;height:58px;border-radius:29.0px;transform:rotate(-36deg);background:rgba(255,255,255,0.55);filter:blur(11px);"></div>
<div style="position:absolute;left:68.5px;top:133.5px;width:86px;height:33px;border-radius:16.5px;transform:rotate(-36deg);background:#fff;filter:blur(6px);"></div>
<div style="position:absolute;left:66.0px;top:163.0px;width:26px;height:22px;border-radius:11.0px;transform:rotate(-25deg);background:rgba(255,255,255,0.8);filter:blur(6px);"></div>
<div style="position:absolute;left:34.0px;top:145.0px;width:56px;height:24px;border-radius:12.0px;transform:rotate(-6deg);background:rgba(255,255,255,0.6);filter:blur(9px);"></div>
</div>
<svg width="800" height="290" viewBox="0 240 800 290" style="position:absolute;left:0;top:240px;overflow:visible">
<path d="M546,278 Q570,312 588,346 T603,381 M615,322 Q618,350 622,377 M633,339 Q630,358 630,373 M642.4,349 L638,371 M654,362 L648,375 M603,381 Q618,374 632,372.5 Q646,371 656,376 M656,376 Q662,381 664,392 M656,376 L667,372 M664,392 Q668,388 680,383 M664,392 Q662,398 664,401 Q688,404 712,413 M664,401 Q648,402 640,399 M660,419 Q676,424 690,430 M660,419 Q664,410 664,401 M660,419 Q650,420 640,414 M636,438 Q648,430 660,419 M636,438 Q637,446 638,455 M612,430 Q624,436 636,438 M612,430 Q615,447 616,466 M588,448 Q600,438 612,430 M588,448 Q585,465 588,480 M576,450 Q582,450 588,448 M576,450 Q568,465 562,481 M537,421 Q556,412 580,412 Q583,425 576,450 M580,412 Q582,398 590,390 Q596,384 603,381 M531,392 Q556,398 582,399" fill="none" stroke="#4a9ab0" stroke-width="0.5" opacity="0.75"/>
<ellipse cx="611" cy="405.5" rx="40" ry="13.5" transform="rotate(-37 611 405.5)" fill="none" stroke="#4a9ab0" stroke-width="0.45" opacity="0.7"/>
<path d="M586,434 Q598,412 618,398 T640,384" fill="none" stroke="#4a9ab0" stroke-width="0.45" opacity="0.8"/>
<text font-family="Liberation Sans, Arial, sans-serif" font-size="2.9" fill="#3a3a2a" text-anchor="middle"><tspan x="553.4" y="330.41">Green</tspan></text>
<text font-family="Liberation Sans, Arial, sans-serif" font-size="2.9" fill="#3a3a2a" text-anchor="middle"><tspan x="597" y="323.09">Yellowish</tspan><tspan x="597" y="326.14">Green</tspan></text>
<text font-family="Liberation Sans, Arial, sans-serif" font-size="2.9" fill="#3a3a2a" text-anchor="middle"><tspan x="624.6" y="346.29">Yellow</tspan><tspan x="624.6" y="349.34">Green</tspan></text>
<text font-family="Liberation Sans, Arial, sans-serif" font-size="2.9" fill="#3a3a2a" text-anchor="middle"><tspan x="551.5" y="379.99">Bluish</tspan><tspan x="551.5" y="383.04">Green</tspan></text>
<text font-family="Liberation Sans, Arial, sans-serif" font-size="2.9" fill="#3a3a2a" text-anchor="middle"><tspan x="560.5" y="422.49">Greenish</tspan><tspan x="560.5" y="425.54">Blue</tspan></text>
<text font-family="Liberation Sans, Arial, sans-serif" font-size="2.9" fill="#3a3a2a" text-anchor="middle"><tspan x="559" y="454.62">Blue</tspan></text>
<text font-family="Liberation Sans, Arial, sans-serif" font-size="2.9" fill="#3a3a2a" text-anchor="middle"><tspan x="598.8" y="458.01">Purple</tspan></text>
<text font-family="Liberation Sans, Arial, sans-serif" font-size="2.9" fill="#3a3a2a" text-anchor="middle"><tspan x="628" y="427.29">Purplish</tspan><tspan x="628" y="430.34">Pink</tspan></text>
<text font-family="Liberation Sans, Arial, sans-serif" font-size="2.9" fill="#3a3a2a" text-anchor="middle"><tspan x="623.5" y="450.89">Reddish</tspan><tspan x="623.5" y="453.94">Purple</tspan></text>
<text font-family="Liberation Sans, Arial, sans-serif" font-size="2.9" fill="#3a3a2a" text-anchor="middle"><tspan x="646" y="414.81">Pink</tspan></text>
<text font-family="Liberation Sans, Arial, sans-serif" font-size="2.9" fill="#3a3a2a" text-anchor="middle"><tspan x="648" y="400.01">Yellowish Pink</tspan></text>
<text font-family="Liberation Sans, Arial, sans-serif" font-size="2.9" fill="#3a3a2a" text-anchor="middle"><tspan x="656" y="387.81">Orange</tspan></text>
<text font-family="Liberation Sans, Arial, sans-serif" font-size="2.9" fill="#3a3a2a" text-anchor="middle"><tspan x="655" y="372.09">Orange</tspan><tspan x="655" y="375.14">Yellow</tspan></text>
<text font-family="Liberation Sans, Arial, sans-serif" font-size="2.9" fill="#3a3a2a" text-anchor="middle"><tspan x="676.4" y="394.49">Reddish</tspan><tspan x="676.4" y="397.54">orange</tspan></text>
<text font-family="Liberation Sans, Arial, sans-serif" font-size="2.9" fill="#3a3a2a" text-anchor="middle"><tspan x="621" y="403.49">Cool</tspan><tspan x="621" y="406.54">Orange</tspan></text>
<text font-family="Liberation Sans, Arial, sans-serif" font-size="5.6" fill="#8a1a5a" text-anchor="middle"><tspan x="657" y="435.82">Purplish</tspan><tspan x="657" y="441.70">Red</tspan></text>
<text font-family="Liberation Sans, Arial, sans-serif" font-size="8" fill="#7a1a1a" text-anchor="middle"><tspan x="686.5" y="420.40">Red</tspan></text>
<text font-family="Liberation Sans, Arial, sans-serif" font-size="2.6" fill="#3a3a2a" text-anchor="middle" transform="rotate(-62 571.8 461.5)"><tspan x="571.8" y="462.41">Bluish Purple</tspan></text>
<text font-family="Liberation Sans, Arial, sans-serif" font-size="2.6" fill="#222" text-anchor="middle" transform="rotate(-50 593 418.8)"><tspan x="593" y="419.71">Black Body Locus</tspan></text>
<text font-family="Liberation Sans, Arial, sans-serif" font-size="2.6" fill="#3a3a2a" text-anchor="middle" transform="rotate(-82 636 360)"><tspan x="636" y="360.91">Greenish Yellow</tspan></text>
<text font-family="Liberation Sans, Arial, sans-serif" font-size="2.6" fill="#3a3a2a" text-anchor="middle" transform="rotate(-68 644 362.5)"><tspan x="644" y="363.41">Yellow</tspan></text>
<rect x="618.8000000000001" y="397.1" width="1.8" height="1.8" fill="#111"/>
<rect x="636.8000000000001" y="384.8" width="1.8" height="1.8" fill="#111"/>
<rect x="606.8000000000001" y="402.6" width="1.8" height="1.8" fill="#111"/>
<rect x="608.6" y="406.1" width="1.8" height="1.8" fill="#111"/>
<rect x="605.6" y="399.6" width="1.8" height="1.8" fill="#111"/>
<text font-family="Liberation Sans, Arial, sans-serif" font-size="2.6" fill="#111" x="621" y="399">B</text><text font-family="Liberation Sans, Arial, sans-serif" font-size="2.6" fill="#111" x="635" y="389">A</text><text font-family="Liberation Sans, Arial, sans-serif" font-size="2.6" fill="#111" x="610.5" y="409.5">C</text><text font-family="Liberation Sans, Arial, sans-serif" font-size="2.6" fill="#111" x="606" y="399.2">E</text><text font-family="Liberation Sans, Arial, sans-serif" font-size="2.6" fill="#111" x="604" y="404.6">D</text>
<text font-family="Liberation Sans, Arial, sans-serif" font-size="2.7" fill="#333" text-anchor="middle" x="545" y="260.5">520</text>
<text font-family="Liberation Sans, Arial, sans-serif" font-size="2.7" fill="#333" text-anchor="middle" x="571.5" y="268.8">530</text>
<text font-family="Liberation Sans, Arial, sans-serif" font-size="2.7" fill="#333" text-anchor="middle" x="588.5" y="283.5">540</text>
<text font-family="Liberation Sans, Arial, sans-serif" font-size="2.7" fill="#333" text-anchor="middle" x="609" y="305">550</text>
<text font-family="Liberation Sans, Arial, sans-serif" font-size="2.7" fill="#333" text-anchor="middle" x="625" y="322">560</text>
<text font-family="Liberation Sans, Arial, sans-serif" font-size="2.7" fill="#333" text-anchor="middle" x="643.5" y="343.5">570</text>
<text font-family="Liberation Sans, Arial, sans-serif" font-size="2.7" fill="#333" text-anchor="middle" x="666" y="365">580</text>
<text font-family="Liberation Sans, Arial, sans-serif" font-size="2.7" fill="#333" text-anchor="middle" x="682" y="379.5">590</text>
<text font-family="Liberation Sans, Arial, sans-serif" font-size="2.7" fill="#333" text-anchor="middle" x="695" y="392">600</text>
<text font-family="Liberation Sans, Arial, sans-serif" font-size="2.7" fill="#333" text-anchor="middle" x="705" y="400.5">610</text>
<text font-family="Liberation Sans, Arial, sans-serif" font-size="2.7" fill="#333" text-anchor="middle" x="711" y="406.5">620</text>
<text font-family="Liberation Sans, Arial, sans-serif" font-size="2.7" fill="#333" text-anchor="middle" x="717" y="411">630</text>
<text font-family="Liberation Sans, Arial, sans-serif" font-size="2.7" fill="#333" text-anchor="middle" x="721" y="414">650</text>
<text font-family="Liberation Sans, Arial, sans-serif" font-size="2.7" fill="#333" text-anchor="middle" x="724" y="417.5">770</text>
<text font-family="Liberation Sans, Arial, sans-serif" font-size="2.7" fill="#333" text-anchor="middle" x="520" y="295">510</text>
<text font-family="Liberation Sans, Arial, sans-serif" font-size="2.7" fill="#333" text-anchor="middle" x="517.5" y="349.5">500</text>
<text font-family="Liberation Sans, Arial, sans-serif" font-size="2.7" fill="#333" text-anchor="middle" x="528" y="408">490</text>
<text font-family="Liberation Sans, Arial, sans-serif" font-size="2.7" fill="#333" text-anchor="middle" x="535" y="434">480</text>
<text font-family="Liberation Sans, Arial, sans-serif" font-size="2.7" fill="#333" text-anchor="middle" x="547" y="468">470</text>
<text font-family="Liberation Sans, Arial, sans-serif" font-size="2.7" fill="#333" text-anchor="middle" x="553" y="476.5">460</text>
<text font-family="Liberation Sans, Arial, sans-serif" font-size="2.7" fill="#333" text-anchor="middle" x="557" y="481.5">450</text>
<text font-family="Liberation Sans, Arial, sans-serif" font-size="2.7" fill="#333" text-anchor="middle" x="561" y="487">440</text>
<text font-family="Liberation Sans, Arial, sans-serif" font-size="2.7" fill="#333" text-anchor="middle" x="564.5" y="491.5">430</text>
<text font-family="Liberation Sans, Arial, sans-serif" font-size="2.7" fill="#333" text-anchor="middle" x="567" y="494">380</text>
<path d="M515.5,250 V493.8" stroke="#4a94dc" stroke-width="1" fill="none"/>
<path d="M515.5,246.5 l1.7,4.5 h-3.4z" fill="#4a94dc"/>
<path d="M515,493.7 H730" stroke="#e47ce0" stroke-width="1.4" fill="none"/>
<path d="M733,493.8 l-4,-1.7 v3.4z" fill="#c050e0"/>
<path d="M515.6,275.5h7M515.6,301.5h7M515.6,327.5h7M515.6,354.5h7M515.6,380.5h7M515.6,407.5h7M515.6,434.5h7M515.6,460.5h7" stroke="#7ab0e6" stroke-width="0.7" fill="none"/>
<g font-family="Liberation Sans, Arial, sans-serif" font-size="6.6" fill="#2a2a2a" stroke="#2a2a2a" stroke-width="0.1" text-anchor="middle">
<text x="508.3" y="281.0">0.8</text>
<text x="508.3" y="307.4">0.7</text>
<text x="508.3" y="333.9">0.6</text>
<text x="508.3" y="360.3">0.5</text>
<text x="508.3" y="386.8">0.4</text>
<text x="508.3" y="413.2">0.3</text>
<text x="508.3" y="439.7">0.2</text>
<text x="508.3" y="466.1">0.1</text>
<text x="508.3" y="496">0.0</text>
<text x="530" y="503.4">0.0</text>
<text x="553.6" y="503.4">0.1</text>
<text x="577" y="503.4">0.2</text>
<text x="600.4" y="503.4">0.3</text>
<text x="624.2" y="503.4">0.4</text>
<text x="648.6" y="503.4">0.5</text>
<text x="673.4" y="503.4">0.6</text>
<text x="696.6" y="503.4">0.7</text>
<text x="717.6" y="503.4">0.8</text>
<text x="508" y="271.6" font-size="7.2">Y</text><text x="730" y="503.6" font-size="7.2">X</text>
</g>
<g font-family="Liberation Sans, Arial, sans-serif" font-size="5.8" fill="#333" stroke="#333" stroke-width="0.12" text-anchor="end">
<text x="717.6" y="260.45">Source  A x=0.4476</text>
<text x="717.6" y="267.05">y=0.4075</text>
<text x="717.6" y="275.65">Source  B x=0.3485</text>
<text x="717.6" y="282.05">y=0.3517</text>
<text x="717.6" y="290.65">Source  C x=0.3101</text>
<text x="717.6" y="297.45">y=0.3163</text>
<text x="717.6" y="317.05">Source  D x=0.3127</text>
<text x="717.6" y="323.45">y=0.3291</text>
<text x="717.6" y="331.65">Source  E x=0.3333</text>
<text x="717.6" y="338.05">y=0.3333</text>
</g>
<line x1="436.5" y1="311.7" x2="623.6" y2="392" stroke="#b8232b" stroke-width="1"/>
<polygon points="432.3,309.9 437.2,315.2 439.5,309.8" fill="#cc2a30"/>
</svg>

<div class="h1" style="left:77px;top:580px;font-size:20.6px;">Product Specification</div>
<div class="hline" style="left:80.5px;top:611.2px;width:638.2px;height:2.5px;"></div>

<div class="cell" style="left:83.3px;top:631.50px;width:142.3px;"></div>
<div class="lbl" style="left:90.5px;top:644.00px;">Item:</div>
<div class="val" style="left:234.3px;top:644.00px;">2835 led strip</div>
<div class="cell" style="left:83.3px;top:668.67px;width:142.3px;"></div>
<div class="lbl" style="left:90.5px;top:681.17px;">Qty LED beads:</div>
<div class="val" style="left:235.3px;top:683.07px;font-size:11px;letter-spacing:0.45px;">60led/M</div>
<div class="cell" style="left:83.3px;top:705.84px;width:142.3px;"></div>
<div class="lbl" style="left:90.5px;top:718.34px;">Color:</div>
<div class="val" style="left:234.3px;top:718.34px;">White</div>
<div class="cell" style="left:83.3px;top:743.01px;width:142.3px;"></div>
<div class="lbl" style="left:90.5px;top:755.51px;">PCB width:</div>
<div class="val" style="left:235.3px;top:757.41px;font-size:11px;letter-spacing:0.45px;">8mm</div>
<div class="cell" style="left:83.3px;top:780.18px;width:142.3px;"></div>
<div class="lbl" style="left:90.5px;top:792.68px;">Light controller type:</div>
<div class="val" style="left:234.3px;top:792.68px;">0-10V/1-10V/DMX/DALI/Triac</div>
<div class="cell" style="left:83.3px;top:817.35px;width:142.3px;"></div>
<div class="lbl" style="left:90.5px;top:829.85px;">Light decay:</div>
<div class="val" style="left:234.3px;top:829.85px;">2% @ 6000Hours</div>
<div class="cell" style="left:83.3px;top:854.52px;width:142.3px;"></div>
<div class="lbl" style="left:90.5px;top:867.02px;">Operating temperature:</div>
<div class="val" style="left:234.3px;top:867.02px;">−25~45 degree</div>
<div class="cell" style="left:83.3px;top:891.69px;width:142.3px;"></div>
<div class="lbl" style="left:90.5px;top:904.19px;">Lifetime</div>
<div class="val" style="left:234.3px;top:904.19px;"><span style="margin-left:-5px;margin-right:1.1px">（</span>Lm80) 50000 HRS @45degree</div>
<div class="cell" style="left:83.3px;top:928.86px;width:142.3px;"></div>
<div class="lbl" style="left:90.5px;top:941.36px;">Mounting</div>
<div class="val" style="left:234.3px;top:941.36px;">3M adhesive tape</div>
<div class="cell" style="left:83.3px;top:966.03px;width:142.3px;"></div>
<div class="lbl" style="left:90.5px;top:978.53px;">Max running length:</div>
<div class="val" style="left:234.3px;top:978.53px;">10meter (two side feed)</div>
<div class="cell" style="left:83.3px;top:1003.20px;width:142.3px;"></div>
<div class="lbl" style="left:90.5px;top:1015.70px;">Luminaire in:</div>
<div class="val" style="left:234.3px;top:1015.70px;">CLASS II/III</div>
<div class="cell" style="left:437px;top:631.50px;width:129.8px;"></div>
<div class="lbl" style="left:443.7px;top:644.00px;">Driver:</div>
<div class="val" style="left:575.7px;top:644.00px;">External&nbsp; led driver</div>
<div class="cell" style="left:437px;top:668.67px;width:129.8px;"></div>
<div class="lbl" style="left:443.7px;top:681.17px;">Mains voltage (V):</div>
<div class="val" style="left:575.7px;top:683.07px;font-size:11px;letter-spacing:0.45px;">CV12/24V</div>
<div class="cell" style="left:437px;top:705.84px;width:129.8px;"></div>
<div class="lbl" style="left:443.7px;top:718.34px;">Control gear type:</div>
<div class="val" style="left:575.7px;top:718.34px;">Constant voltage driver</div>
<div class="cell" style="left:437px;top:743.01px;width:129.8px;"></div>
<div class="lbl" style="left:443.7px;top:755.51px;">Ref:</div>
<div class="val" style="left:575.7px;top:755.51px;">Meanwell</div>
<div class="cell" style="left:437px;top:780.18px;width:129.8px;"></div>
<div class="lbl" style="left:443.7px;top:792.68px;">Emergency availability:</div>
<div class="val" style="left:575.7px;top:792.68px;">&nbsp;/</div>
<div class="cell" style="left:437px;top:817.35px;width:129.8px;"></div>
<div class="lbl" style="left:443.7px;top:829.85px;">Chip:</div>
<div class="val" style="left:575.7px;top:829.85px;">Epistar or other brand chips</div>
<div class="cell" style="left:437px;top:854.52px;width:129.8px;"></div>
<div class="lbl" style="left:443.7px;top:867.02px;">Light emission:</div>
<div class="val" style="left:575.7px;top:867.02px;">120°</div>
<div class="cell" style="left:437px;top:891.69px;width:129.8px;"></div>
<div class="lbl" style="left:443.7px;top:904.19px;">Deviation (SDCM)</div>
<div class="val" style="left:575.7px;top:904.19px;">3step MacAdam ellipse</div>
<div class="cell" style="left:437px;top:928.86px;width:129.8px;"></div>
<div class="lbl" style="left:443.7px;top:941.36px;">BIN:</div>
<div class="val" style="left:575.7px;top:941.36px;">One bin only</div>
<div class="cell" style="left:437px;top:966.03px;width:129.8px;"></div>
<div class="lbl" style="left:443.7px;top:978.53px;">Warranty:</div>
<div class="val" style="left:575.7px;top:978.53px;">5 years</div>
</body>
</html>
